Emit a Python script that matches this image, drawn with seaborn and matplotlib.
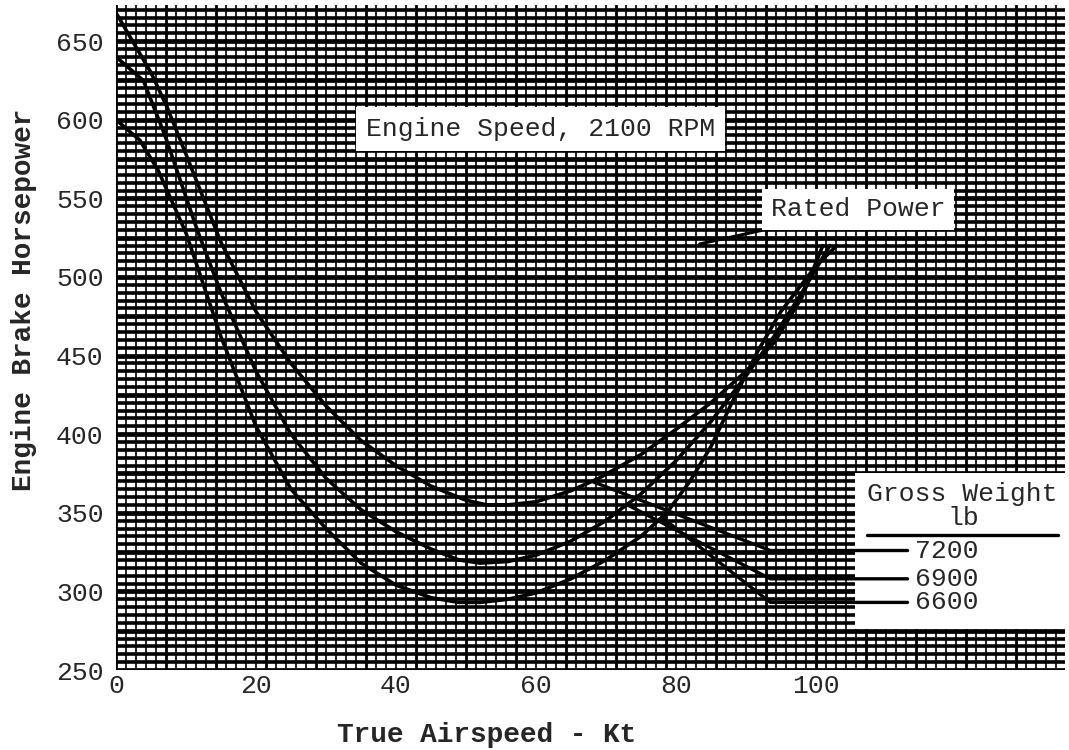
import numpy as np
import pandas as pd
import matplotlib
matplotlib.use("Agg")
import matplotlib.pyplot as plt
import seaborn as sns
from matplotlib.patches import Rectangle

# ---- data ----
x_7200 = [0, 5, 7.3, 10, 15, 20, 25, 30, 35, 40, 45, 50, 53, 56, 60, 65, 69, 75, 80, 85, 90, 94, 98, 101]
hp_7200 = [668, 630, 608, 578, 522, 478, 445, 418, 396, 380, 367, 358, 355, 355, 357, 364, 372, 387, 403, 420, 440, 458, 487, 520]
x_6900 = [0, 3.9, 7, 11.6, 15, 20, 25, 30, 35, 40, 45, 49, 52, 56, 60, 65, 70, 75, 80, 85, 90, 94, 98, 102]
hp_6900 = [640, 625, 590, 530, 490, 440, 400, 372, 352, 338, 327, 320, 318, 319, 323, 332, 345, 362, 383, 408, 437, 462, 490, 520]
x_6600 = [0, 3.4, 6, 10, 15, 20, 25, 30, 35, 40, 45, 49, 52, 56, 60, 65, 70, 75, 78.7, 82, 85, 88, 91.6, 95, 100, 103]
hp_6600 = [600, 587, 568, 528, 462, 405, 365, 340, 318, 304, 296, 293, 293, 295, 299, 308, 320, 335, 350, 370, 392, 420, 452, 478, 507, 520]
weights = ["7200", "6900", "6600"]
leader_start_x = [68, 73, 78]
leader_bend_x = 93.5
leader_end_x = 113.1
leader_level = [326, 308, 293]
x_ticks = [0, 20, 40, 60, 80, 100]
y_ticks = [250, 300, 350, 400, 450, 500, 550, 600, 650]

curves_x = [x_7200, x_6900, x_6600]
curves_y = [hp_7200, hp_6900, hp_6600]
df = pd.concat([
    pd.DataFrame({"x": cx, "y": cy, "w": w})
    for cx, cy, w in zip(curves_x, curves_y, weights)
])

sns.set_style("white")
plt.rcParams["font.family"] = ["Liberation Mono", "DejaVu Sans Mono"]

fig = plt.figure(figsize=(10.69, 7.5), dpi=100)
ax = fig.add_axes([116 / 1069, 1 - 670 / 750, 949 / 1069, 665 / 750])
ax.set_xlim(0, 135.6)
ax.set_ylim(250, 673)

# graph paper grid
step_x = 20 / 14
for i, xv in enumerate(np.arange(0, 136, step_x)):
    ax.axvline(xv, color="black", lw=2.0 if i % 5 == 0 else 1.2, zorder=1)
for yv in np.arange(250, 675, 5):
    major = (yv % 25) == 0
    ax.axhline(yv, color="black", lw=3.4 if major else 2.6, zorder=1)

# white legend area
ax.add_patch(Rectangle((105.6, 275.9), 32, 99.4, facecolor="white", edgecolor="none",
                       zorder=3, clip_on=False))

sns.lineplot(data=df, x="x", y="y", units="w", estimator=None, sort=False,
             color="black", lw=2.6, ax=ax, zorder=4, legend=False)

for i in range(3):
    y0 = np.interp(leader_start_x[i], curves_x[i], curves_y[i])
    ax.plot([leader_start_x[i], leader_bend_x, leader_end_x],
            [y0, leader_level[i], leader_level[i]],
            color="black", lw=2.4, zorder=5, clip_on=False)
    ax.text(114.1, leader_level[i], weights[i], fontsize=19, va="center",
            ha="left", zorder=6)

ax.text(120.9, 362, "Gross Weight", fontsize=19, ha="center", va="center", zorder=6)
ax.text(121.1, 346.5, "lb", fontsize=19, ha="center", va="center", zorder=6)
ax.plot([107.3, 134.6], [336, 336], color="black", lw=2.4, zorder=6, clip_on=False)

ax.text(60.7, 594, "Engine Speed, 2100 RPM", fontsize=19, ha="center", va="center",
        zorder=6, bbox=dict(facecolor="white", edgecolor="none", pad=7))
ax.annotate("Rated Power", xy=(83.4, 521), xytext=(106, 543), fontsize=19,
            ha="center", va="center", zorder=6,
            bbox=dict(facecolor="white", edgecolor="none", pad=6),
            arrowprops=dict(arrowstyle="-", color="black", lw=2.2,
                            shrinkA=2, shrinkB=0))

ax.set_xticks(x_ticks)
ax.set_yticks(y_ticks)
ax.set_xticklabels([str(v) for v in x_ticks])
ax.set_yticklabels([str(v) for v in y_ticks])
ax.tick_params(axis="both", labelsize=19, length=0)
ax.tick_params(axis="x", pad=3)
ax.tick_params(axis="y", pad=9)
for s in ax.spines.values():
    s.set_visible(False)
ax.set_xlabel("")
ax.set_ylabel("")
fig.text(487 / 1069, 1 - 735 / 750, "True Airspeed - Kt", fontsize=20,
         fontweight="bold", ha="center", va="center")
fig.text(24 / 1069, 1 - 300 / 750, "Engine Brake Horsepower", fontsize=20,
         fontweight="bold", ha="center", va="center", rotation=90)

fig.savefig("out.png", dpi=100)
